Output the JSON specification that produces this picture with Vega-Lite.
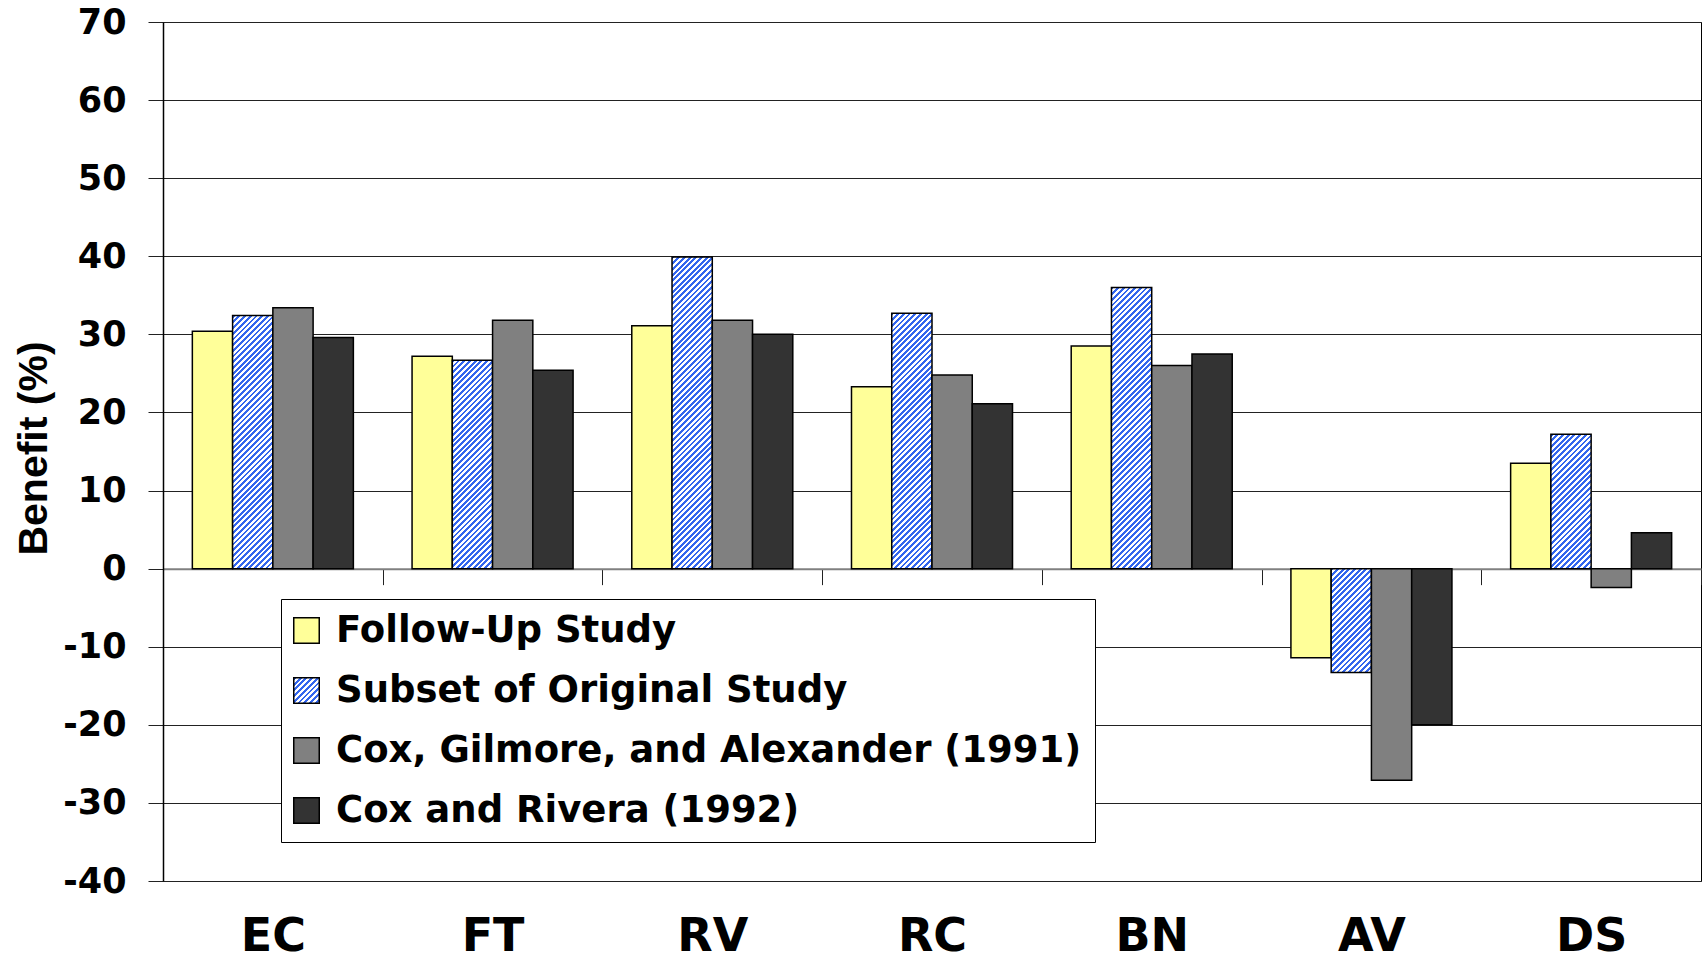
{
  "$schema": "https://vega.github.io/schema/vega-lite/v6.json",
  "width": 1538,
  "height": 859,
  "autosize": "none",
  "padding": {"left": 163, "top": 22, "right": 5, "bottom": 78},
  "background": "white",
  "params": [
    {"name": "hs", "value": [
      {"offset":0,"color":"#36e"},
      {"offset":0.008,"color":"#36e"},{"offset":0.008,"color":"#fff"},{"offset":0.016,"color":"#fff"},{"offset":0.016,"color":"#36e"},
      {"offset":0.024,"color":"#36e"},{"offset":0.024,"color":"#fff"},{"offset":0.032,"color":"#fff"},{"offset":0.032,"color":"#36e"},
      {"offset":0.04,"color":"#36e"},{"offset":0.04,"color":"#fff"},{"offset":0.048,"color":"#fff"},{"offset":0.048,"color":"#36e"},
      {"offset":0.056,"color":"#36e"},{"offset":0.056,"color":"#fff"},{"offset":0.064,"color":"#fff"},{"offset":0.064,"color":"#36e"},
      {"offset":0.072,"color":"#36e"},{"offset":0.072,"color":"#fff"},{"offset":0.08,"color":"#fff"},{"offset":0.08,"color":"#36e"},
      {"offset":0.088,"color":"#36e"},{"offset":0.088,"color":"#fff"},{"offset":0.096,"color":"#fff"},{"offset":0.096,"color":"#36e"},
      {"offset":0.104,"color":"#36e"},{"offset":0.104,"color":"#fff"},{"offset":0.112,"color":"#fff"},{"offset":0.112,"color":"#36e"},
      {"offset":0.12,"color":"#36e"},{"offset":0.12,"color":"#fff"},{"offset":0.128,"color":"#fff"},{"offset":0.128,"color":"#36e"},
      {"offset":0.136,"color":"#36e"},{"offset":0.136,"color":"#fff"},{"offset":0.144,"color":"#fff"},{"offset":0.144,"color":"#36e"},
      {"offset":0.152,"color":"#36e"},{"offset":0.152,"color":"#fff"},{"offset":0.16,"color":"#fff"},{"offset":0.16,"color":"#36e"},
      {"offset":0.168,"color":"#36e"},{"offset":0.168,"color":"#fff"},{"offset":0.176,"color":"#fff"},{"offset":0.176,"color":"#36e"},
      {"offset":0.184,"color":"#36e"},{"offset":0.184,"color":"#fff"},{"offset":0.192,"color":"#fff"},{"offset":0.192,"color":"#36e"},
      {"offset":0.2,"color":"#36e"},{"offset":0.2,"color":"#fff"},{"offset":0.208,"color":"#fff"},{"offset":0.208,"color":"#36e"},
      {"offset":0.216,"color":"#36e"},{"offset":0.216,"color":"#fff"},{"offset":0.224,"color":"#fff"},{"offset":0.224,"color":"#36e"},
      {"offset":0.232,"color":"#36e"},{"offset":0.232,"color":"#fff"},{"offset":0.24,"color":"#fff"},{"offset":0.24,"color":"#36e"},
      {"offset":0.248,"color":"#36e"},{"offset":0.248,"color":"#fff"},{"offset":0.256,"color":"#fff"},{"offset":0.256,"color":"#36e"},
      {"offset":0.264,"color":"#36e"},{"offset":0.264,"color":"#fff"},{"offset":0.272,"color":"#fff"},{"offset":0.272,"color":"#36e"},
      {"offset":0.28,"color":"#36e"},{"offset":0.28,"color":"#fff"},{"offset":0.288,"color":"#fff"},{"offset":0.288,"color":"#36e"},
      {"offset":0.296,"color":"#36e"},{"offset":0.296,"color":"#fff"},{"offset":0.304,"color":"#fff"},{"offset":0.304,"color":"#36e"},
      {"offset":0.312,"color":"#36e"},{"offset":0.312,"color":"#fff"},{"offset":0.32,"color":"#fff"},{"offset":0.32,"color":"#36e"},
      {"offset":0.328,"color":"#36e"},{"offset":0.328,"color":"#fff"},{"offset":0.336,"color":"#fff"},{"offset":0.336,"color":"#36e"},
      {"offset":0.344,"color":"#36e"},{"offset":0.344,"color":"#fff"},{"offset":0.352,"color":"#fff"},{"offset":0.352,"color":"#36e"},
      {"offset":0.36,"color":"#36e"},{"offset":0.36,"color":"#fff"},{"offset":0.368,"color":"#fff"},{"offset":0.368,"color":"#36e"},
      {"offset":0.376,"color":"#36e"},{"offset":0.376,"color":"#fff"},{"offset":0.384,"color":"#fff"},{"offset":0.384,"color":"#36e"},
      {"offset":0.392,"color":"#36e"},{"offset":0.392,"color":"#fff"},{"offset":0.4,"color":"#fff"},{"offset":0.4,"color":"#36e"},
      {"offset":0.408,"color":"#36e"},{"offset":0.408,"color":"#fff"},{"offset":0.416,"color":"#fff"},{"offset":0.416,"color":"#36e"},
      {"offset":0.424,"color":"#36e"},{"offset":0.424,"color":"#fff"},{"offset":0.432,"color":"#fff"},{"offset":0.432,"color":"#36e"},
      {"offset":0.44,"color":"#36e"},{"offset":0.44,"color":"#fff"},{"offset":0.448,"color":"#fff"},{"offset":0.448,"color":"#36e"},
      {"offset":0.456,"color":"#36e"},{"offset":0.456,"color":"#fff"},{"offset":0.464,"color":"#fff"},{"offset":0.464,"color":"#36e"},
      {"offset":0.472,"color":"#36e"},{"offset":0.472,"color":"#fff"},{"offset":0.48,"color":"#fff"},{"offset":0.48,"color":"#36e"},
      {"offset":0.488,"color":"#36e"},{"offset":0.488,"color":"#fff"},{"offset":0.496,"color":"#fff"},{"offset":0.496,"color":"#36e"},
      {"offset":0.504,"color":"#36e"},{"offset":0.504,"color":"#fff"},{"offset":0.512,"color":"#fff"},{"offset":0.512,"color":"#36e"},
      {"offset":0.52,"color":"#36e"},{"offset":0.52,"color":"#fff"},{"offset":0.528,"color":"#fff"},{"offset":0.528,"color":"#36e"},
      {"offset":0.536,"color":"#36e"},{"offset":0.536,"color":"#fff"},{"offset":0.544,"color":"#fff"},{"offset":0.544,"color":"#36e"},
      {"offset":0.552,"color":"#36e"},{"offset":0.552,"color":"#fff"},{"offset":0.56,"color":"#fff"},{"offset":0.56,"color":"#36e"},
      {"offset":0.568,"color":"#36e"},{"offset":0.568,"color":"#fff"},{"offset":0.576,"color":"#fff"},{"offset":0.576,"color":"#36e"},
      {"offset":0.584,"color":"#36e"},{"offset":0.584,"color":"#fff"},{"offset":0.592,"color":"#fff"},{"offset":0.592,"color":"#36e"},
      {"offset":0.6,"color":"#36e"},{"offset":0.6,"color":"#fff"},{"offset":0.608,"color":"#fff"},{"offset":0.608,"color":"#36e"},
      {"offset":0.616,"color":"#36e"},{"offset":0.616,"color":"#fff"},{"offset":0.624,"color":"#fff"},{"offset":0.624,"color":"#36e"},
      {"offset":0.632,"color":"#36e"},{"offset":0.632,"color":"#fff"},{"offset":0.64,"color":"#fff"},{"offset":0.64,"color":"#36e"},
      {"offset":0.648,"color":"#36e"},{"offset":0.648,"color":"#fff"},{"offset":0.656,"color":"#fff"},{"offset":0.656,"color":"#36e"},
      {"offset":0.664,"color":"#36e"},{"offset":0.664,"color":"#fff"},{"offset":0.672,"color":"#fff"},{"offset":0.672,"color":"#36e"},
      {"offset":0.68,"color":"#36e"},{"offset":0.68,"color":"#fff"},{"offset":0.688,"color":"#fff"},{"offset":0.688,"color":"#36e"},
      {"offset":0.696,"color":"#36e"},{"offset":0.696,"color":"#fff"},{"offset":0.704,"color":"#fff"},{"offset":0.704,"color":"#36e"},
      {"offset":0.712,"color":"#36e"},{"offset":0.712,"color":"#fff"},{"offset":0.72,"color":"#fff"},{"offset":0.72,"color":"#36e"},
      {"offset":0.728,"color":"#36e"},{"offset":0.728,"color":"#fff"},{"offset":0.736,"color":"#fff"},{"offset":0.736,"color":"#36e"},
      {"offset":0.744,"color":"#36e"},{"offset":0.744,"color":"#fff"},{"offset":0.752,"color":"#fff"},{"offset":0.752,"color":"#36e"},
      {"offset":0.76,"color":"#36e"},{"offset":0.76,"color":"#fff"},{"offset":0.768,"color":"#fff"},{"offset":0.768,"color":"#36e"},
      {"offset":0.776,"color":"#36e"},{"offset":0.776,"color":"#fff"},{"offset":0.784,"color":"#fff"},{"offset":0.784,"color":"#36e"},
      {"offset":0.792,"color":"#36e"},{"offset":0.792,"color":"#fff"},{"offset":0.8,"color":"#fff"},{"offset":0.8,"color":"#36e"},
      {"offset":0.808,"color":"#36e"},{"offset":0.808,"color":"#fff"},{"offset":0.816,"color":"#fff"},{"offset":0.816,"color":"#36e"},
      {"offset":0.824,"color":"#36e"},{"offset":0.824,"color":"#fff"},{"offset":0.832,"color":"#fff"},{"offset":0.832,"color":"#36e"},
      {"offset":0.84,"color":"#36e"},{"offset":0.84,"color":"#fff"},{"offset":0.848,"color":"#fff"},{"offset":0.848,"color":"#36e"},
      {"offset":0.856,"color":"#36e"},{"offset":0.856,"color":"#fff"},{"offset":0.864,"color":"#fff"},{"offset":0.864,"color":"#36e"},
      {"offset":0.872,"color":"#36e"},{"offset":0.872,"color":"#fff"},{"offset":0.88,"color":"#fff"},{"offset":0.88,"color":"#36e"},
      {"offset":0.888,"color":"#36e"},{"offset":0.888,"color":"#fff"},{"offset":0.896,"color":"#fff"},{"offset":0.896,"color":"#36e"},
      {"offset":0.904,"color":"#36e"},{"offset":0.904,"color":"#fff"},{"offset":0.912,"color":"#fff"},{"offset":0.912,"color":"#36e"},
      {"offset":0.92,"color":"#36e"},{"offset":0.92,"color":"#fff"},{"offset":0.928,"color":"#fff"},{"offset":0.928,"color":"#36e"},
      {"offset":0.936,"color":"#36e"},{"offset":0.936,"color":"#fff"},{"offset":0.944,"color":"#fff"},{"offset":0.944,"color":"#36e"},
      {"offset":0.952,"color":"#36e"},{"offset":0.952,"color":"#fff"},{"offset":0.96,"color":"#fff"},{"offset":0.96,"color":"#36e"},
      {"offset":0.968,"color":"#36e"},{"offset":0.968,"color":"#fff"},{"offset":0.976,"color":"#fff"},{"offset":0.976,"color":"#36e"},
      {"offset":0.984,"color":"#36e"},{"offset":0.984,"color":"#fff"},{"offset":0.992,"color":"#fff"},{"offset":0.992,"color":"#36e"},
      {"offset":1,"color":"#36e"}
    ]}
  ],
  "data": {"values": [
    {"cat": "EC", "series": "Follow-Up Study", "benefit": 30.4},
    {"cat": "EC", "series": "Subset of Original Study", "benefit": 32.4},
    {"cat": "EC", "series": "Cox, Gilmore, and Alexander (1991)", "benefit": 33.4},
    {"cat": "EC", "series": "Cox and Rivera (1992)", "benefit": 29.6},
    {"cat": "FT", "series": "Follow-Up Study", "benefit": 27.2},
    {"cat": "FT", "series": "Subset of Original Study", "benefit": 26.7},
    {"cat": "FT", "series": "Cox, Gilmore, and Alexander (1991)", "benefit": 31.8},
    {"cat": "FT", "series": "Cox and Rivera (1992)", "benefit": 25.4},
    {"cat": "RV", "series": "Follow-Up Study", "benefit": 31.1},
    {"cat": "RV", "series": "Subset of Original Study", "benefit": 39.9},
    {"cat": "RV", "series": "Cox, Gilmore, and Alexander (1991)", "benefit": 31.8},
    {"cat": "RV", "series": "Cox and Rivera (1992)", "benefit": 30.0},
    {"cat": "RC", "series": "Follow-Up Study", "benefit": 23.3},
    {"cat": "RC", "series": "Subset of Original Study", "benefit": 32.7},
    {"cat": "RC", "series": "Cox, Gilmore, and Alexander (1991)", "benefit": 24.8},
    {"cat": "RC", "series": "Cox and Rivera (1992)", "benefit": 21.1},
    {"cat": "BN", "series": "Follow-Up Study", "benefit": 28.5},
    {"cat": "BN", "series": "Subset of Original Study", "benefit": 36.0},
    {"cat": "BN", "series": "Cox, Gilmore, and Alexander (1991)", "benefit": 26.0},
    {"cat": "BN", "series": "Cox and Rivera (1992)", "benefit": 27.5},
    {"cat": "AV", "series": "Follow-Up Study", "benefit": -11.4},
    {"cat": "AV", "series": "Subset of Original Study", "benefit": -13.3},
    {"cat": "AV", "series": "Cox, Gilmore, and Alexander (1991)", "benefit": -27.1},
    {"cat": "AV", "series": "Cox and Rivera (1992)", "benefit": -20.0},
    {"cat": "DS", "series": "Follow-Up Study", "benefit": 13.5},
    {"cat": "DS", "series": "Subset of Original Study", "benefit": 17.2},
    {"cat": "DS", "series": "Cox, Gilmore, and Alexander (1991)", "benefit": -2.4},
    {"cat": "DS", "series": "Cox and Rivera (1992)", "benefit": 4.6}
  ]},
  "mark": {"type": "bar", "stroke": "#000", "strokeWidth": 1.5},
  "encoding": {
    "x": {
      "field": "cat", "type": "nominal", "sort": null,
      "scale": {"paddingInner": 0, "paddingOuter": 0},
      "axis": {
        "orient": "bottom", "offset": -312.36, "tickBand": "extent",
        "tickSize": 16, "tickColor": "#222", "tickWidth": 1,
        "domainColor": "#808080", "domainWidth": 2,
        "labelFont": "DejaVu Sans", "labelFontWeight": "bold", "labelFontSize": 46,
        "labelColor": "#000", "labelPadding": 330, "labelAngle": 0,
        "title": null, "grid": false
      }
    },
    "xOffset": {
      "field": "series", "type": "nominal",
      "sort": ["Follow-Up Study", "Subset of Original Study", "Cox, Gilmore, and Alexander (1991)", "Cox and Rivera (1992)"],
      "scale": {"paddingInner": 0, "paddingOuter": 0.729}
    },
    "y": {
      "field": "benefit", "type": "quantitative",
      "scale": {"domain": [-40, 70], "nice": false, "zero": false},
      "axis": {
        "values": [-40, -30, -20, -10, 0, 10, 20, 30, 40, 50, 60, 70],
        "labelExpr": "datum.value < 0 ? '-' + abs(datum.value) : '' + datum.value",
        "grid": true, "gridColor": "#222", "gridWidth": 1,
        "tickSize": 15, "tickColor": "#222", "tickWidth": 1,
        "domainColor": "#000", "domainWidth": 1.5,
        "labelFont": "DejaVu Sans", "labelFontWeight": "bold", "labelFontSize": 35,
        "labelColor": "#000", "labelPadding": 22, "labelFlush": false, "labelOverlap": false,
        "title": "Benefit (%)", "titleFont": "Liberation Sans", "titleFontSize": 41,
        "titleFontWeight": "bold", "titleColor": "#000",
        "titleAngle": -90, "titleAlign": "center", "titleBaseline": "middle",
        "titleX": -129, "titleY": 426
      }
    },
    "fill": {
      "field": "series", "type": "nominal",
      "scale": {
        "domain": ["Follow-Up Study", "Subset of Original Study", "Cox, Gilmore, and Alexander (1991)", "Cox and Rivera (1992)"],
        "range": ["#ffff99", {"expr": "{gradient:'linear',x1:0,y1:0,x2:7,y2:7,stops:hs}"}, "#808080", "#333333"]
      },
      "condition": {
        "test": "datum.series === 'Subset of Original Study'",
        "value": {"expr": "{gradient:'linear',x1:0,y1:0,x2:bandwidth('xOffset')*356/(pow(bandwidth('xOffset'),2)+pow(scale('y',datum.benefit)-scale('y',0),2)),y2:abs(scale('y',datum.benefit)-scale('y',0))*356/(pow(bandwidth('xOffset'),2)+pow(scale('y',datum.benefit)-scale('y',0),2)),stops:hs}"}
      },
      "legend": {
        "orient": "none", "legendX": 118, "legendY": 577,
        "title": null, "strokeColor": "#000", "fillColor": "#fff", "padding": 13,
        "symbolType": "square", "symbolSize": 650, "symbolOffset": -6,
        "symbolStrokeColor": "#000", "symbolStrokeWidth": 1.5,
        "labelFont": "DejaVu Sans", "labelFontWeight": "bold", "labelFontSize": 37,
        "labelColor": "#000", "labelOffset": 11, "labelLimit": 0, "rowPadding": 22
      }
    }
  },
  "config": {
    "view": {"stroke": "#000", "strokeWidth": 1}
  }
}
